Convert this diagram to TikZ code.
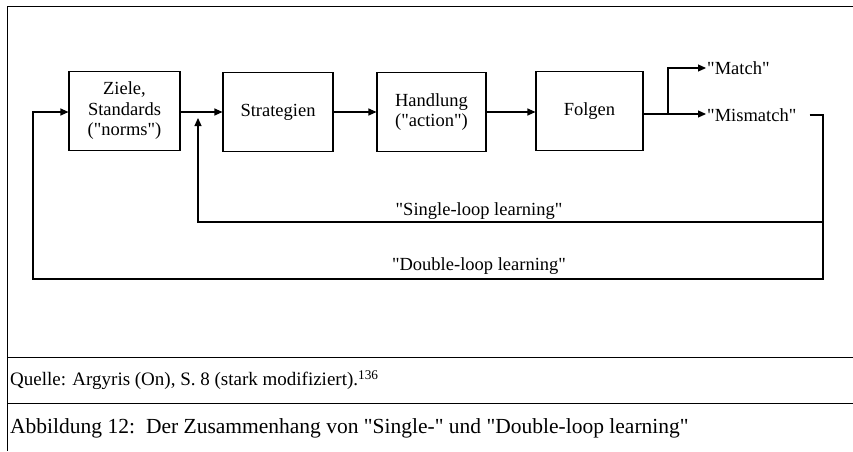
\documentclass[tikz,border=0pt]{standalone}
\usepackage{fontspec}
\setmainfont{Liberation Serif}[Ligatures=TeXOff]
\usetikzlibrary{positioning,arrows.meta,calc}

\tikzset{
  block/.style={draw, line width=1.1pt, minimum width=110pt, minimum height=79pt,
    align=center, font=\fontsize{18.5}{20.5}\selectfont, inner sep=2pt},
  lbl/.style={font=\fontsize{18.5}{20}\selectfont, inner sep=1pt},
  flow/.style={line width=1.1pt, -{Triangle[length=8pt,width=7pt]}},
  wire/.style={line width=1.1pt},
  frame/.style={line width=0.9pt},
}

\begin{document}
\begin{tikzpicture}[x=1pt,y=-1pt]
\useasboundingbox (0,0) rectangle (853,451);

% Rahmen
\draw[frame] (853,6) -- (7,6) -- (7,451);
\draw[frame] (7,357) -- (853,357);
\draw[frame] (7,403) -- (853,403);

% Kette
\node[block, minimum width=111pt] (ziele) at (124.5,111) {Ziele,\\Standards\\("norms")};
\node[block] (strat) at (278,112) {Strategien};
\node[block, minimum width=109pt] (handl) at (431.5,112) {Handlung\\("action")};
\node[block, minimum width=107pt] (folgen) at (589.5,111) {Folgen};

\node[lbl, anchor=west] (match) at (706,68) {"Match"};
\node[lbl, anchor=west] (mism) at (706,115) {"Mismatch"};

\coordinate (split) at (668,114);
\coordinate (sr) at (823,222);
\coordinate (sl) at (198,222);
\coordinate (dr) at (823,279);
\coordinate (dl) at (33,279);

\draw[flow] (ziele.east |- strat.west) -- (strat.west);
\draw[flow] (strat.east) -- (handl.west);
\draw[flow] (handl.east) -- (folgen.west |- handl.east);
\draw[flow] (folgen.east |- split) -- (mism.west |- split);
\draw[flow] (split) |- (match.west);

% Schleifen
\draw[flow] ([xshift=12pt]mism.east) -| (dr) -- (dl) |- (ziele.west |- strat.west);
\draw[flow] (sr) -- (sl) -- ($(sl |- strat.west)+(0,6)$);

\node[lbl] (single) at (479,211) {"Single-loop learning"};
\node[lbl] (double) at (479,266) {"Double-loop learning"};

% Quelle und Titel
\node[anchor=west, font=\fontsize{19}{20}\selectfont, inner sep=0pt] (quelle) at (10,380)
  {Quelle: Argyris (On), S.~8 (stark modifiziert).\textsuperscript{136}};
\node[anchor=west, font=\fontsize{21.5}{24}\selectfont, inner sep=0pt] (abb) at (10,428)
  {Abbildung 12:\hspace{11pt}Der Zusammenhang von "Single-" und "Double-loop learning"};
\end{tikzpicture}
\end{document}
